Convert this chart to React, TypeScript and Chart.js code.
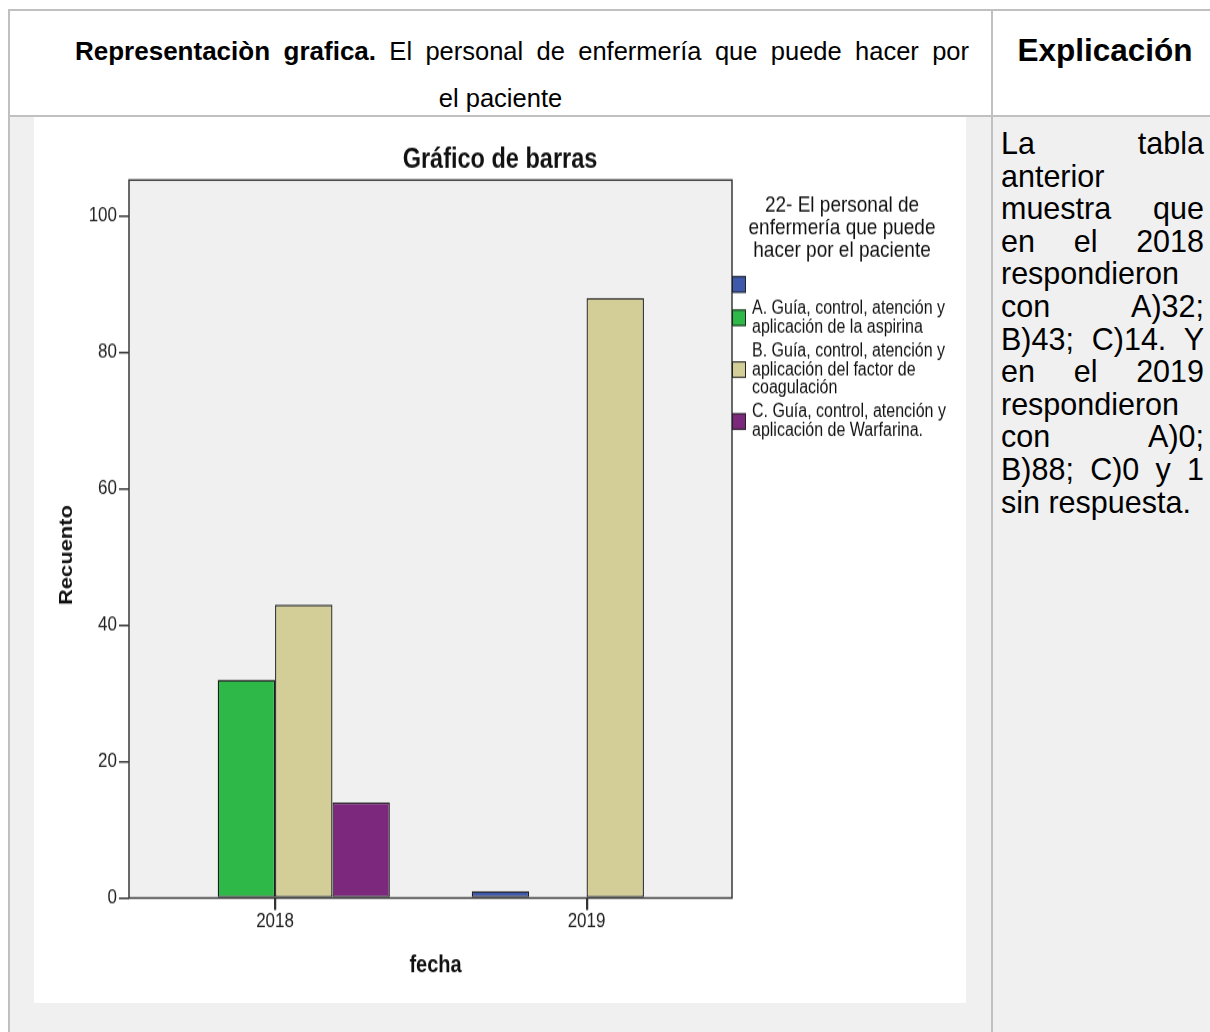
import React, { useEffect, useRef } from 'react';
import { Chart, registerables } from 'chart.js';

Chart.register(...registerables);

// ---------- data ----------
const categories = ['2018', '2019'];
const seriesNames = [
  '',
  'A. Guía, control, atención y aplicación de la aspirina',
  'B. Guía, control, atención y aplicación del factor de coagulación',
  'C. Guía, control, atención y aplicación de Warfarina.',
];
const legendLines = [
  [] as string[],
  ['A. Guía, control, atención y', 'aplicación de la aspirina'],
  ['B. Guía, control, atención y', 'aplicación del factor de', 'coagulación'],
  ['C. Guía, control, atención y', 'aplicación de Warfarina.'],
];
const legendTitleLines = ['22- El personal de', 'enfermería que puede', 'hacer por el paciente'];
const missingValues = [0, 1];
const aValues = [32, 0];
const bValues = [43, 88];
const cValues = [14, 0];
const seriesColors = ['#3e58ac', '#2eb848', '#d3ce97', '#7c287d'];
const yStep = 20;
const yMax = 105.3;

const explanationLines = [
  'La tabla',
  'anterior',
  'muestra que',
  'en el 2018',
  'respondieron',
  'con A)32;',
  'B)43; C)14. Y',
  'en el 2019',
  'respondieron',
  'con A)0;',
  'B)88; C)0 y 1',
  'sin respuesta.',
];

// ---------- layout constants ----------
const FONT = "'Liberation Sans', Arial, Helvetica, sans-serif";
const CW = 932;
const CH = 746;
const K = 885 / 746;

const framePlugin = {
  id: 'frame',
  beforeDraw(chart: any) {
    const { ctx, chartArea: a } = chart;
    ctx.save();
    ctx.fillStyle = '#f0f0f0';
    ctx.fillRect(a.left, a.top, a.right - a.left, a.bottom - a.top);
    ctx.restore();
  },
  afterDraw(chart: any) {
    const { ctx, chartArea: a } = chart;
    const xs = chart.scales.x;
    ctx.save();
    ctx.strokeStyle = '#3a3a3a';
    ctx.lineWidth = 1.5;
    ctx.strokeRect(a.left, a.top, a.right - a.left, a.bottom - a.top);
    // category tick marks below the axis
    ctx.strokeStyle = '#333';
    categories.forEach((_, i) => {
      const px = Math.round(xs.getPixelForValue(i)) + 0.5;
      ctx.beginPath();
      ctx.moveTo(px, a.bottom);
      ctx.lineTo(px, a.bottom + 10);
      ctx.stroke();
    });
    ctx.fillStyle = '#111';
    ctx.textAlign = 'center';
    ctx.textBaseline = 'middle';
    // x axis title
    ctx.font = `bold 20px ${FONT}`;
    ctx.fillText('fecha', (a.left + a.right) / 2 + 5, 714);
    // y axis title
    ctx.translate(33, 368.4);
    ctx.rotate(-Math.PI / 2);
    ctx.font = `bold 18.5px ${FONT}`;
    ctx.fillText('Recuento', 0, 0);
    ctx.restore();
  },
};

const legendPlugin = {
  id: 'sideLegend',
  afterDraw(chart: any) {
    const { ctx, chartArea: a } = chart;
    ctx.save();
    ctx.fillStyle = '#111';
    ctx.textAlign = 'center';
    ctx.textBaseline = 'middle';
    ctx.font = `19px ${FONT}`;
    legendTitleLines.forEach((t, i) => ctx.fillText(t, a.right + 110, 73.3 + i * 19.2));
    const lh = 15.6;
    const gap = 4.7;
    let top = 132.5;
    chart.data.datasets.forEach((ds: any, i: number) => {
      const lines = legendLines[i];
      const blockH = Math.max(1, lines.length) * lh;
      const sy = top + (blockH - 14) / 2;
      ctx.fillStyle = ds.backgroundColor;
      ctx.fillRect(a.right, sy, 14, 14);
      ctx.strokeStyle = '#222';
      ctx.lineWidth = 1;
      ctx.strokeRect(a.right + 0.5, sy + 0.5, 13, 13);
      ctx.fillStyle = '#111';
      ctx.textAlign = 'left';
      ctx.font = `16px ${FONT}`;
      lines.forEach((t, j) => ctx.fillText(t, a.right + 20, top + lh * (j + 0.5)));
      top += blockH + gap;
    });
    ctx.restore();
  },
};

function ChartCanvas() {
  const ref = useRef<HTMLCanvasElement>(null);
  useEffect(() => {
    const seriesValues = [missingValues, aValues, bValues, cValues];
    const tickFont = { family: FONT, size: 17 };
    const gridOpts = {
      display: true,
      drawOnChartArea: false,
      drawTicks: true,
      offset: false,
      tickLength: 10,
      color: '#333',
      lineWidth: 1.5,
    };
    const chart = new Chart(ref.current as HTMLCanvasElement, {
      type: 'bar',
      data: {
        datasets: seriesValues.map((vals, i) => ({
          label: seriesNames[i],
          data: vals.map((v, j) => ({ x: j, y: v })),
          backgroundColor: seriesColors[i],
          borderColor: '#1e1e1e',
          borderWidth: 1.3,
          borderSkipped: false,
          inflateAmount: 0,
          categoryPercentage: 0.737,
          barPercentage: 1,
        })),
      } as any,
      options: {
        responsive: false,
        animation: false,
        devicePixelRatio: 1,
        layout: { padding: 0 },
        plugins: {
          legend: { display: false },
          tooltip: { enabled: false },
          title: {
            display: true,
            text: 'Gráfico de barras',
            color: '#111',
            font: { family: FONT, size: 23.5, weight: 'bold' },
            padding: { top: 21.3, bottom: 2.8 },
          },
        },
        scales: {
          x: {
            type: 'linear',
            min: -0.469,
            max: 1.467,
            offset: false,
            afterBuildTicks: (s: any) => {
              s.ticks = categories.map((_, i) => ({ value: i }));
            },
            afterFit: (s: any) => {
              s.height = 88.5;
            },
            ticks: {
              callback: (v: any) => categories[Math.round(Number(v))] ?? '',
              font: tickFont,
              color: '#222',
              padding: 0,
              maxRotation: 0,
              autoSkip: false,
            },
            grid: gridOpts,
            border: { display: false },
            title: { display: false },
          },
          y: {
            type: 'linear',
            min: 0,
            max: yMax,
            afterFit: (s: any) => {
              s.width = 95;
            },
            ticks: {
              stepSize: yStep,
              includeBounds: false,
              font: tickFont,
              color: '#222',
              padding: 2,
            },
            grid: gridOpts,
            border: { display: false },
            title: { display: false },
          },
          legendSpace: {
            type: 'linear',
            position: 'right',
            display: true,
            grid: { display: false, drawTicks: false },
            ticks: { display: false },
            border: { display: false },
            afterFit: (s: any) => {
              s.width = 234;
            },
          },
        },
      } as any,
      plugins: [framePlugin, legendPlugin],
    });
    return () => chart.destroy();
  }, []);
  return (
    <canvas
      ref={ref}
      width={CW}
      height={CH}
      style={{ width: CW, height: CH, display: 'block' }}
    />
  );
}

const line = '#c0c0c0';

export default function App() {
  return (
    <>
      <style>{`html,body{margin:0;padding:0;overflow:hidden;background:#fff;}`}</style>
      <div
        style={{
          position: 'relative',
          width: 1210,
          height: 1032,
          overflow: 'hidden',
          fontFamily: FONT,
          color: '#000',
          background: '#fff',
        }}
      >
        <div style={{ position: 'absolute', left: 10, top: 117, width: 1200, height: 915, background: '#f0f0f0' }} />
        <div style={{ position: 'absolute', left: 8, top: 9, width: 1202, height: 2, background: line }} />
        <div style={{ position: 'absolute', left: 8, top: 9, width: 2, height: 1023, background: line }} />
        <div style={{ position: 'absolute', left: 8, top: 115, width: 1202, height: 2, background: line }} />
        <div style={{ position: 'absolute', left: 991, top: 9, width: 2, height: 1023, background: line }} />

        <div
          style={{
            position: 'absolute',
            left: 75,
            top: 34,
            width: 894,
            lineHeight: '34px',
            textAlign: 'justify',
            textAlignLast: 'justify' as any,
          }}
        >
          <span style={{ fontWeight: 'bold', fontSize: 26 }}>Representaciòn grafica.</span>
          <span style={{ fontSize: 25.5 }}> El personal de enfermería que puede hacer por</span>
        </div>
        <div
          style={{
            position: 'absolute',
            left: 10,
            top: 81,
            width: 981,
            lineHeight: '34px',
            textAlign: 'center',
            fontSize: 25.5,
          }}
        >
          el paciente
        </div>
        <div
          style={{
            position: 'absolute',
            left: 993,
            top: 33,
            width: 224,
            lineHeight: '34px',
            textAlign: 'center',
            fontSize: 31.5,
            fontWeight: 'bold',
          }}
        >
          Explicación
        </div>

        <div style={{ position: 'absolute', left: 34, top: 117, width: 932, height: 886, background: '#fff', overflow: 'hidden' }}>
          <div style={{ position: 'absolute', left: 0, top: 1, width: CW, height: CH, transform: `scaleY(${K})`, transformOrigin: '0 0' }}>
            <ChartCanvas />
          </div>
        </div>

        <div
          style={{
            position: 'absolute',
            left: 1001,
            top: 127,
            width: 203,
            fontSize: 30.5,
            lineHeight: '32.6px',
          }}
        >
          {explanationLines.map((t, i) => (
            <div
              key={i}
              style={{
                textAlign: 'justify',
                textAlignLast: (i === explanationLines.length - 1 ? 'left' : 'justify') as any,
                whiteSpace: 'nowrap',
              }}
            >
              {t}
            </div>
          ))}
        </div>
      </div>
    </>
  );
}
